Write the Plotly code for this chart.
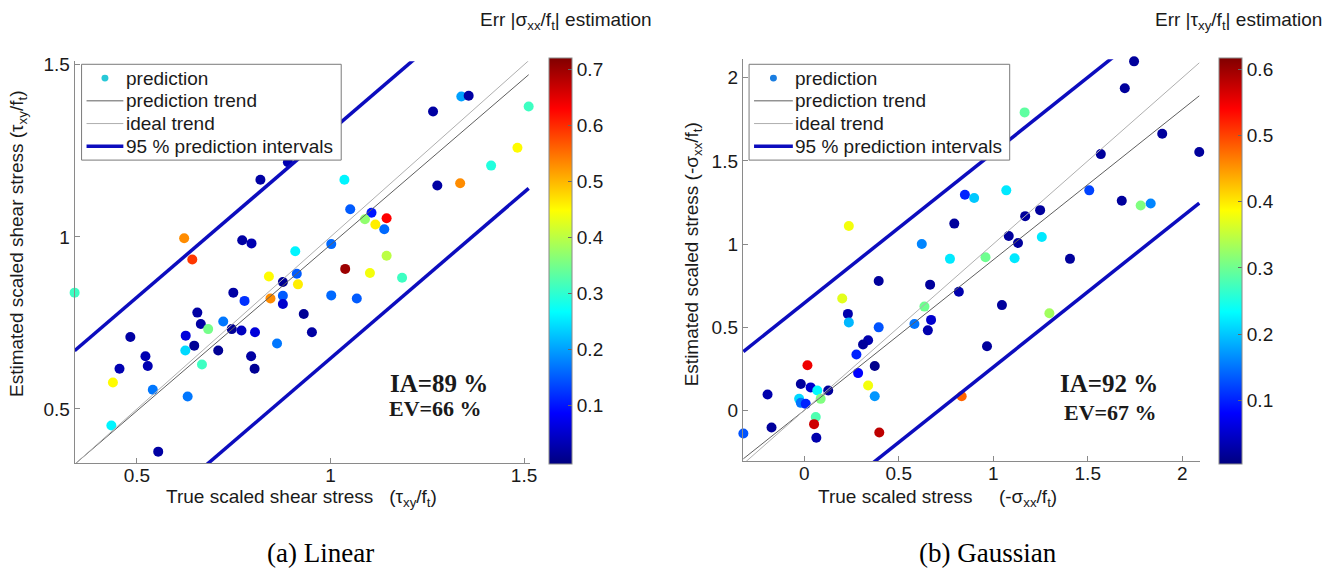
import plotly.graph_objects as go

# ---------------- data: (a) Linear ----------------
lin_true = [0.339, 0.483, 0.455, 0.438, 0.522, 0.528, 0.541, 0.434, 0.555, 0.631,
            0.656, 0.665, 0.626, 0.625, 0.648, 0.668, 0.684, 0.643, 0.723, 0.710,
            0.749, 0.745, 0.770, 0.778, 0.805, 0.795, 0.804, 0.841, 0.877, 0.913,
            0.916, 0.845, 0.877, 0.877, 0.862, 0.931, 0.952, 1.002, 1.038, 1.068,
            0.909, 0.819, 0.890, 0.622, 0.772, 0.796, 1.002, 1.036, 1.051, 1.106,
            1.145, 1.116, 1.139, 1.089, 1.145, 1.102, 1.185, 1.265, 1.338, 1.357,
            1.512, 1.483, 1.415, 1.276, 1.335]
lin_est = [0.838, 0.709, 0.617, 0.577, 0.653, 0.625, 0.556, 0.452, 0.376, 0.536,
           0.780, 0.747, 0.713, 0.670, 0.684, 0.629, 0.732, 0.934, 0.754, 0.670,
           0.838, 0.732, 0.728, 0.814, 0.723, 0.653, 0.617, 0.885, 0.869, 0.893,
           0.862, 0.821, 0.829, 0.805, 0.690, 0.776, 0.723, 0.830, 0.907, 0.821,
           0.958, 1.166, 1.217, 0.996, 0.990, 0.981, 0.979, 1.166, 1.080, 1.070,
           1.054, 1.036, 1.022, 1.051, 0.945, 0.895, 0.881, 1.364, 1.408, 1.410,
           1.379, 1.259, 1.207, 1.149, 1.156]
lin_err = [0.31, 0.02, 0.03, 0.45, 0.03, 0.03, 0.17, 0.26, 0.02, 0.17,
           0.02, 0.02, 0.06, 0.24, 0.01, 0.31, 0.35, 0.59, 0.17, 0.01,
           0.02, 0.01, 0.04, 0.12, 0.06, 0.02, 0.01, 0.45, 0.01, 0.15,
           0.46, 0.53, 0.15, 0.05, 0.17, 0.01, 0.02, 0.16, 0.70, 0.15,
           0.26, 0.02, 0.03, 0.53, 0.02, 0.03, 0.16, 0.26, 0.15, 0.10,
           0.63, 0.46, 0.16, 0.37, 0.40, 0.44, 0.31, 0.02, 0.20, 0.02,
           0.31, 0.45, 0.29, 0.02, 0.53]
lin_fit = {"slope": 0.965, "intercept": 0.012, "pi_half": 0.33}
lin_ia, lin_ev = "IA=89 %", "EV=66 %"
lin_cmin, lin_cmax = -0.005, 0.72
lin_ticks = [0.5, 1, 1.5]
lin_cticks = [0.1, 0.2, 0.3, 0.4, 0.5, 0.6, 0.7]

# ---------------- data: (b) Gaussian ----------------
gau_true = [-0.322, 0.236, 0.622, 0.771, 0.794, 0.850, 0.899, 0.394, 0.666, 0.818,
            0.201, 0.231, 0.236, 0.394, 0.583, 0.636, 0.671, 0.654, 0.338, 0.311,
            0.276, 0.373, 0.285, 0.338, 0.373, 0.397, 0.017, -0.018, 0.034, 0.069,
            0.127, 0.087, -0.027, -0.018, 0.008, -0.194, -0.173, 0.061, 0.052, 0.064,
            1.745, 1.696, 1.166, 1.894, 1.569, 2.090, 1.069, 1.508, 1.680, 1.780,
            1.833, 1.248, 1.169, 1.082, 1.131, 1.257, 0.959, 1.113, 1.406, 1.046,
            1.297, 0.967, 0.833]
gau_est = [-0.139, 1.109, 1.000, 0.911, 1.123, 1.297, 1.277, 0.778, 0.756, 0.713,
           0.673, 0.580, 0.529, 0.499, 0.519, 0.624, 0.544, 0.481, 0.422, 0.396,
           0.336, 0.267, 0.224, 0.149, 0.085, -0.133, 0.271, 0.158, 0.138, 0.119,
           0.119, 0.069, 0.069, 0.045, 0.039, 0.095, -0.103, -0.040, -0.083, -0.165,
           2.099, 1.937, 1.792, 1.664, 1.541, 1.554, 1.323, 1.323, 1.261, 1.232,
           1.244, 1.204, 1.168, 1.049, 1.006, 1.043, 0.921, 0.915, 0.911, 0.633,
           0.584, 0.386, 0.085]
gau_err = [0.13, 0.38, 0.16, 0.22, 0.02, 0.10, 0.20, 0.02, 0.02, 0.03,
           0.37, 0.03, 0.19, 0.13, 0.15, 0.30, 0.05, 0.03, 0.03, 0.02,
           0.10, 0.01, 0.08, 0.38, 0.17, 0.58, 0.55, 0.02, 0.05, 0.23,
           0.02, 0.31, 0.21, 0.15, 0.10, 0.03, 0.02, 0.28, 0.57, 0.03,
           0.02, 0.02, 0.29, 0.02, 0.02, 0.02, 0.22, 0.12, 0.02, 0.31,
           0.16, 0.02, 0.02, 0.02, 0.02, 0.22, 0.30, 0.22, 0.02, 0.02,
           0.33, 0.02, 0.48]
gau_fit = {"slope": 0.905, "intercept": 0.0, "pi_half": 0.645}
gau_ia, gau_ev = "IA=92 %", "EV=67 %"
gau_cmin, gau_cmax = 0.003, 0.617
gau_ticks = [0, 0.5, 1, 1.5, 2]
gau_cticks = [0.1, 0.2, 0.3, 0.4, 0.5, 0.6]

legend_labels = ["prediction", "prediction trend", "ideal trend", "95 % prediction intervals"]

# ---------------- styling ----------------
W, H = 1341, 573
SANS = "Liberation Sans, Arial, sans-serif"
SERIF = "Liberation Serif, Times New Roman, serif"
AXC = "#8a8a8a"
TXT = "#1a1a1a"
BLUE = "rgb(12,12,190)"
PRED_C = "rgb(95,95,95)"
IDEAL_C = "rgb(175,175,175)"
JET = [[0.0, "rgb(0,0,128)"], [0.125, "rgb(0,0,255)"], [0.375, "rgb(0,255,255)"],
       [0.625, "rgb(255,255,0)"], [0.875, "rgb(255,0,0)"], [1.0, "rgb(128,0,0)"]]


def px_x(p):
    return p / W


def px_y(p):
    return 1 - p / H


panels = [
    dict(x=lin_true, y=lin_est, c=lin_err, fit=lin_fit, cmin=lin_cmin, cmax=lin_cmax,
         xd=(75, 533), yd=(55, 462), xr=(0.339, 1.516), yr=(0.342, 1.51),
         ticks=lin_ticks, cticks=lin_cticks, cbx=552, xa="x", ya="y",
         leg=dict(x0=82, x1=343, y0=58, y1=155, sw0=87, sw1=124, tx=125,
                  rows=[72, 95, 118, 141], mcol="rgb(40,200,215)")),
    dict(x=gau_true, y=gau_est, c=gau_err, fit=gau_fit, cmin=gau_cmin, cmax=gau_cmax,
         xd=(746.7, 1206.7), yd=(53, 460), xr=(-0.325, 2.096), yr=(-0.307, 2.111),
         ticks=gau_ticks, cticks=gau_cticks, cbx=1225, xa="x2", ya="y2",
         leg=dict(x0=753, x1=1015, y0=58, y1=155, sw0=758, sw1=797, tx=797,
                  rows=[72, 95, 118, 141], mcol="rgb(25,125,225)")),
]

fig = go.Figure()
shapes = []
ann = []
for p in panels:
    xs = p["x"]
    x0, x1 = min(xs), max(xs)
    f = p["fit"]
    pred_x = [x0, x1]
    pred_y = [f["intercept"] + f["slope"] * v for v in pred_x]
    ideal_y = list(pred_x)
    pi_x = [x0, x1, None, x0, x1]
    pi_y = [pred_y[0] + f["pi_half"], pred_y[1] + f["pi_half"], None,
            pred_y[0] - f["pi_half"], pred_y[1] - f["pi_half"]]
    fig.add_trace(go.Scatter(
        x=xs, y=p["y"], mode="markers", name=legend_labels[0], showlegend=False,
        xaxis=p["xa"], yaxis=p["ya"], cliponaxis=False,
        marker=dict(size=10, color=p["c"], colorscale=JET, cmin=p["cmin"], cmax=p["cmax"],
                    line=dict(width=0),
                    colorbar=dict(x=px_x(p["cbx"]), xanchor="left", y=px_y(463), yanchor="bottom",
                                  len=(463 - 51.7) / H, lenmode="fraction", thickness=23,
                                  thicknessmode="pixels", xpad=0, ypad=0,
                                  outlinecolor=AXC, outlinewidth=1, ticks="inside", ticklen=4,
                                  tickcolor="#666", tickvals=p["cticks"],
                                  ticktext=[f"{t:g}" for t in p["cticks"]],
                                  tickfont=dict(family=SANS, size=19, color=TXT)))))
    fig.add_trace(go.Scatter(x=pred_x, y=pred_y, mode="lines", name=legend_labels[1],
                             showlegend=False, xaxis=p["xa"], yaxis=p["ya"],
                             line=dict(color=PRED_C, width=1)))
    fig.add_trace(go.Scatter(x=pred_x, y=ideal_y, mode="lines", name=legend_labels[2],
                             showlegend=False, xaxis=p["xa"], yaxis=p["ya"],
                             line=dict(color=IDEAL_C, width=1)))
    fig.add_trace(go.Scatter(x=pi_x, y=pi_y, mode="lines", name=legend_labels[3],
                             showlegend=False, xaxis=p["xa"], yaxis=p["ya"], connectgaps=False,
                             line=dict(color=BLUE, width=3.5)))

    # legend box (drawn to match the MATLAB legend layout)
    L = p["leg"]
    shapes.append(dict(type="rect", xref="paper", yref="paper",
                       x0=px_x(L["x0"]), x1=px_x(L["x1"]), y0=px_y(L["y1"]), y1=px_y(L["y0"]),
                       line=dict(color="#7a7a7a", width=1), fillcolor="white", layer="above"))
    r = L["rows"]
    cx = (L["sw0"] + L["sw1"]) / 2
    shapes.append(dict(type="circle", xref="paper", yref="paper",
                       x0=px_x(cx - 3.5), x1=px_x(cx + 3.5), y0=px_y(r[0] + 3.5), y1=px_y(r[0] - 3.5),
                       line=dict(width=0), fillcolor=L["mcol"], layer="above"))
    for row, col, wd in [(r[1], PRED_C, 1), (r[2], IDEAL_C, 1), (r[3], BLUE, 3.5)]:
        shapes.append(dict(type="line", xref="paper", yref="paper",
                           x0=px_x(L["sw0"]), x1=px_x(L["sw1"]), y0=px_y(row), y1=px_y(row),
                           line=dict(color=col, width=wd), layer="above"))
    for row, lab in zip(r, legend_labels):
        ann.append(dict(text=lab, x=px_x(L["tx"]), y=px_y(row), xanchor="left",
                        font=dict(family=SANS, size=19, color=TXT)))

axis_common = dict(showline=True, linecolor=AXC, linewidth=1, ticks="inside", ticklen=5,
                   tickcolor=AXC, showgrid=False, zeroline=False, mirror=False,
                   tickfont=dict(family=SANS, size=19, color=TXT))

layout = dict(width=W, height=H, margin=dict(l=0, r=0, t=0, b=0),
              plot_bgcolor="white", paper_bgcolor="white", showlegend=False)
for i, p in enumerate(panels):
    sx = "" if i == 0 else "2"
    layout["xaxis" + sx] = dict(axis_common, domain=[px_x(p["xd"][0]), px_x(p["xd"][1])],
                                range=list(p["xr"]), anchor="y" + sx, tickvals=p["ticks"],
                                ticktext=[f"{t:g}" for t in p["ticks"]], ticklabelstandoff=-5)
    layout["yaxis" + sx] = dict(axis_common, domain=[px_y(p["yd"][1]), px_y(p["yd"][0])],
                                range=list(p["yr"]), anchor="x" + sx, tickvals=p["ticks"],
                                ticktext=[f"{t:g}" for t in p["ticks"]])
fig.update_layout(**layout)

NB = "\u00a0"
# stats
ann += [dict(text="<b>" + lin_ia + "</b>", x=px_x(441), y=px_y(381), font=dict(family=SERIF, size=25, color=TXT)),
        dict(text="<b>" + lin_ev + "</b>", x=px_x(438), y=px_y(406), font=dict(family=SERIF, size=22, color=TXT)),
        dict(text="<b>" + gau_ia + "</b>", x=px_x(1115), y=px_y(381), font=dict(family=SERIF, size=25, color=TXT)),
        dict(text="<b>" + gau_ev + "</b>", x=px_x(1116), y=px_y(411), font=dict(family=SERIF, size=22, color=TXT))]
# axis titles
ann += [dict(text="True scaled shear stress" + NB * 3 + "(τ<sub>xy</sub>/f<sub>t</sub>)",
             x=px_x(303), y=px_y(497), font=dict(family=SANS, size=19, color=TXT)),
        dict(text="Estimated scaled shear stress" + NB + "(τ<sub>xy</sub>/f<sub>t</sub>)", textangle=-90,
             x=px_x(18), y=px_y(240), font=dict(family=SANS, size=19, color=TXT)),
        dict(text="True scaled stress" + NB * 5 + "(-σ<sub>xx</sub>/f<sub>t</sub>)",
             x=px_x(942), y=px_y(497), font=dict(family=SANS, size=19, color=TXT)),
        dict(text="Estimated scaled stress" + NB + "(-σ<sub>xx</sub>/f<sub>t</sub>)", textangle=-90,
             x=px_x(697), y=px_y(250), font=dict(family=SANS, size=19, color=TXT)),
        # colorbar titles
        dict(text="Err |σ<sub>xx</sub>/f<sub>t</sub>| estimation", x=px_x(569), y=px_y(14),
             font=dict(family=SANS, size=19, color=TXT)),
        dict(text="Err |τ<sub>xy</sub>/f<sub>t</sub>| estimation", x=px_x(1245), y=px_y(14),
             font=dict(family=SANS, size=19, color=TXT)),
        # captions
        dict(text="(a) Linear", x=px_x(322), y=px_y(553), font=dict(family=SERIF, size=27, color="black")),
        dict(text="(b) Gaussian", x=px_x(993), y=px_y(553), font=dict(family=SERIF, size=27, color="black"))]
for a in ann:
    a.setdefault("xanchor", "center")
    a.update(xref="paper", yref="paper", showarrow=False, yanchor="middle")
fig.update_layout(annotations=ann, shapes=shapes)

fig.write_html("out.html", config={"displayModeBar": False},
               post_script="document.body.style.margin='0px';document.body.style.overflow='hidden';")
